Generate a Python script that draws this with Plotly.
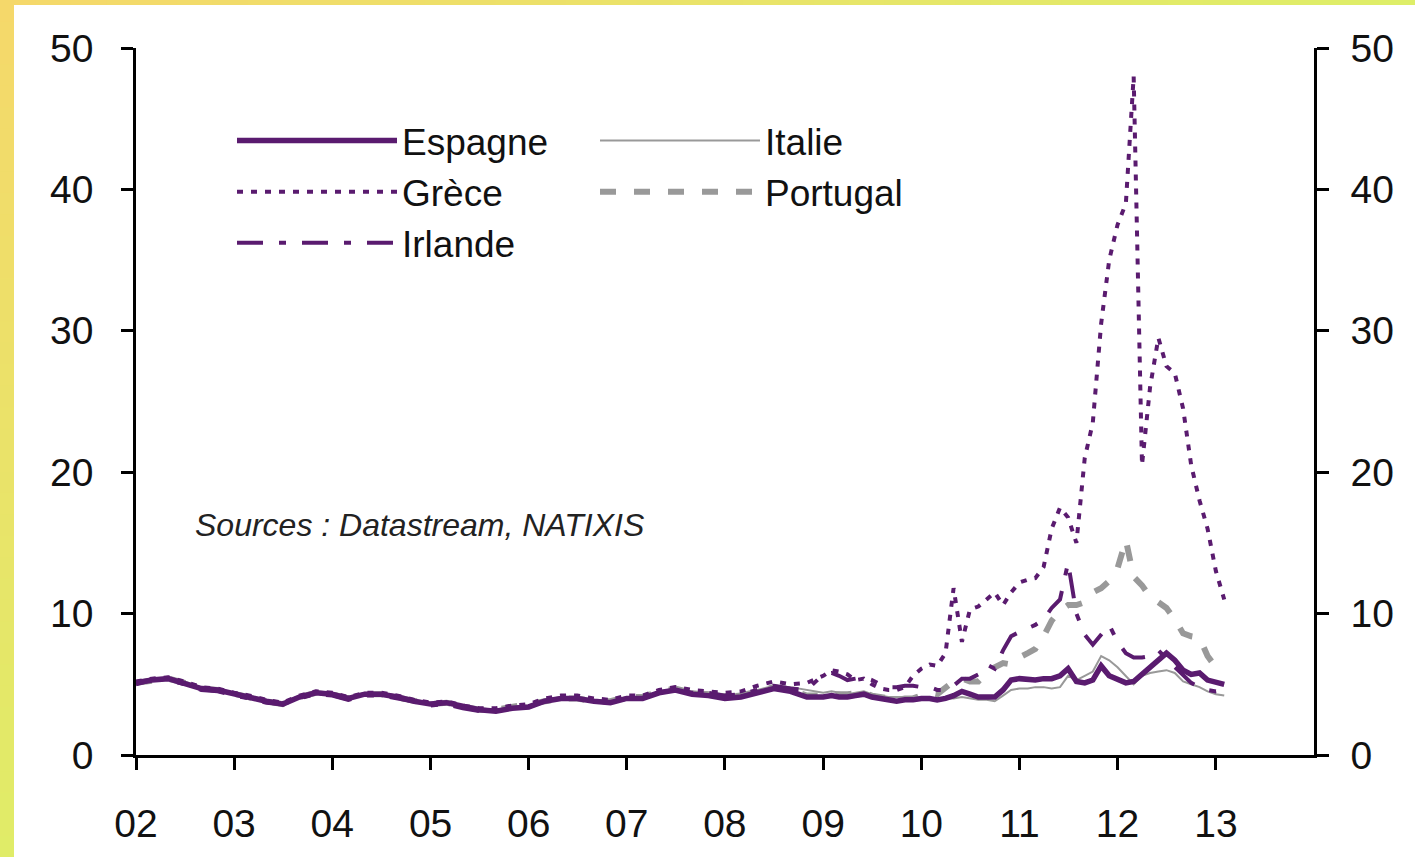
import pandas as pd
import plotly.graph_objects as go

# ---------------- data ----------------
DATES = list(pd.date_range("2002-01-01", "2008-11-01", freq="2MS")) + \
        list(pd.date_range("2009-01-01", "2013-02-01", freq="MS"))

ESPAGNE = [
    5.1, 5.3, 5.4, 5.1, 4.7, 4.6,
    4.3, 4.1, 3.8, 3.6, 4.1, 4.4,
    4.3, 4.0, 4.3, 4.3, 4.1, 3.8,
    3.6, 3.7, 3.4, 3.2, 3.1, 3.3,
    3.4, 3.8, 4.0, 4.0, 3.8, 3.7,
    4.0, 4.0, 4.4, 4.6, 4.3, 4.2,
    4.0, 4.1, 4.4, 4.7, 4.5, 4.1,
    4.1, 4.2, 4.1, 4.1, 4.2, 4.3, 4.1, 4.0, 3.9, 3.8, 3.9, 3.9,
    4.0, 4.0, 3.9, 4.0, 4.2, 4.5, 4.3, 4.1, 4.1, 4.1, 4.6, 5.3,
    5.4, 5.3, 5.3, 5.4, 5.4, 5.6, 6.1, 5.2, 5.1, 5.3, 6.3, 5.6,
    5.4, 5.1, 5.2, 5.7, 6.1, 6.6, 7.2, 6.7, 6.0, 5.7, 5.8, 5.3,
    5.1, 5.0,
]
ITALIE = [
    5.2, 5.4, 5.4, 5.2, 4.8, 4.7,
    4.4, 4.2, 3.9, 3.7, 4.2, 4.5,
    4.4, 4.1, 4.4, 4.4, 4.2, 3.9,
    3.7, 3.8, 3.5, 3.3, 3.2, 3.4,
    3.5, 3.9, 4.1, 4.1, 3.9, 3.8,
    4.1, 4.1, 4.5, 4.7, 4.5, 4.4,
    4.3, 4.3, 4.6, 4.9, 4.8, 4.6,
    4.4, 4.5, 4.4, 4.3, 4.4, 4.5, 4.3, 4.2, 4.1, 4.1, 4.1, 4.1,
    4.1, 4.0, 3.9, 4.0, 4.0, 4.1, 4.0, 3.9, 3.9, 3.8, 4.2, 4.6,
    4.7, 4.7, 4.8, 4.8, 4.7, 4.8, 5.6, 5.3, 5.6, 5.9, 7.0, 6.7,
    6.2, 5.6, 5.0, 5.6, 5.8, 5.9, 6.0, 5.8, 5.2, 5.0, 4.8, 4.5,
    4.3, 4.2,
]
GRECE = [
    5.2, 5.4, 5.5, 5.2, 4.8, 4.7,
    4.4, 4.2, 3.9, 3.7, 4.2, 4.5,
    4.4, 4.1, 4.4, 4.4, 4.2, 3.9,
    3.7, 3.8, 3.5, 3.3, 3.3, 3.5,
    3.6, 4.0, 4.2, 4.2, 4.0, 3.9,
    4.2, 4.2, 4.6, 4.8, 4.6, 4.5,
    4.4, 4.5, 4.9, 5.2, 5.0, 5.1,
    5.6, 6.0, 5.9, 5.7, 5.3, 5.4, 5.0, 4.7, 4.6, 4.6, 4.8, 5.6,
    6.1, 6.4, 6.3, 7.2, 11.8, 8.0, 10.3, 10.5, 11.0, 11.5, 10.6, 11.5,
    12.2, 12.4, 12.5, 13.3, 16.0, 17.5, 16.8, 15.0, 21.0, 23.5, 30.5, 35.0,
    37.5, 39.0, 48.0, 20.5, 26.0, 29.5, 27.5, 27.0, 24.5, 20.5, 18.0, 16.0,
    13.0, 11.0,
]
PORTUGAL = [
    5.1, 5.3, 5.4, 5.1, 4.7, 4.6,
    4.3, 4.1, 3.8, 3.6, 4.1, 4.4,
    4.3, 4.0, 4.3, 4.3, 4.1, 3.8,
    3.6, 3.7, 3.4, 3.2, 3.2, 3.4,
    3.5, 3.8, 4.0, 4.0, 3.8, 3.8,
    4.1, 4.1, 4.5, 4.7, 4.4, 4.3,
    4.1, 4.2, 4.5, 4.8, 4.6, 4.2,
    4.2, 4.3, 4.3, 4.3, 4.3, 4.4, 4.2, 4.1, 4.0, 3.9, 4.0, 4.0,
    4.2, 4.4, 4.3, 4.8, 5.2, 5.4, 5.2, 5.2, 5.8, 6.2, 6.5, 6.4,
    6.9, 7.2, 7.5, 8.4, 9.5, 10.2, 10.6, 10.6, 10.8, 11.5, 11.8, 12.3,
    13.2, 15.2, 12.6, 12.0, 11.2, 10.8, 10.4, 9.6, 8.6, 8.4, 8.3, 7.0,
    6.2, 6.0,
]
IRLANDE = [
    5.0, 5.3, 5.3, 5.0, 4.6, 4.5,
    4.2, 4.0, 3.7, 3.6, 4.0, 4.3,
    4.2, 3.9, 4.2, 4.2, 4.0, 3.8,
    3.5, 3.6, 3.3, 3.1, 3.1, 3.3,
    3.4, 3.8, 4.0, 4.0, 3.8, 3.7,
    4.0, 4.0, 4.4, 4.6, 4.4, 4.4,
    4.2, 4.3, 4.6, 4.9, 4.7, 4.6,
    5.7, 5.8, 5.6, 5.3, 5.4, 5.5, 5.3, 5.0, 4.8, 4.8, 4.9, 4.9,
    4.8, 4.8, 4.6, 4.6, 4.9, 5.4, 5.4, 5.7, 6.4, 6.1, 7.4, 8.4,
    8.7, 9.0, 9.2, 9.6, 10.4, 11.0, 13.6, 10.0, 8.5, 7.8, 8.5, 9.2,
    8.0, 7.2, 6.9, 6.9, 7.0, 7.4, 6.8, 6.2, 5.6, 5.1, 4.8, 4.6,
    4.5, 4.6,
]

X_TICKS = [f"{y}-01-01" for y in range(2002, 2014)]
X_LABELS = ["02", "03", "04", "05", "06", "07", "08", "09", "10", "11", "12", "13"]
Y_TICKS = [0, 10, 20, 30, 40, 50]
SOURCE_TEXT = "Sources : Datastream, NATIXIS"

# ---------------- style ----------------
PURPLE = "#5A1B6F"
GREY = "#999999"
FONT = "Liberation Sans, Arial, sans-serif"
W, H = 1415, 857
L, R, T, B = 136, 101, 48, 102

fig = go.Figure()

series = {
    "Espagne": (ESPAGNE, dict(color=PURPLE, width=5.5), "legend", 1),
    "Grèce": (GRECE, dict(color=PURPLE, width=4, dash="6px,8px"), "legend", 2),
    "Irlande": (IRLANDE, dict(color=PURPLE, width=4, dash="26px,16px,7px,16px"), "legend", 3),
    "Italie": (ITALIE, dict(color=GREY, width=2), "legend2", 1),
    "Portugal": (PORTUGAL, dict(color=GREY, width=6, dash="16px,18px"), "legend2", 2),
}
# grey lines drawn below purple ones as in the reference
for name in ["Portugal", "Italie", "Irlande", "Grèce", "Espagne"]:
    vals, line, leg, rank = series[name]
    fig.add_trace(go.Scatter(
        x=DATES, y=vals, mode="lines", name=name, line=line,
        legend=leg, legendgroup=name, legendrank=rank,
    ))

# invisible trace to register the right-hand axis
fig.add_trace(go.Scatter(x=[DATES[0]], y=[None], yaxis="y2", showlegend=False,
                         hoverinfo="skip", mode="lines"))

axis_common = dict(
    showline=True, linecolor="black", linewidth=2.5,
    ticks="outside", ticklen=12, tickwidth=2.5, tickcolor="black",
    showgrid=False, zeroline=False,
    tickfont=dict(family=FONT, size=39, color="#111111"),
)

pw, ph = W - L - R, H - T - B
def px2x(px):
    return (px - L) / pw
def py2y(py):
    return (H - B - py) / ph

legend_common = dict(
    xanchor="left", yanchor="top", bgcolor="rgba(0,0,0,0)",
    font=dict(family=FONT, size=37, color="#111111"),
    itemwidth=160, tracegroupgap=6, traceorder="normal",
)

fig.update_layout(
    width=W, height=H,
    margin=dict(l=L, r=R, t=T, b=B),
    paper_bgcolor="white", plot_bgcolor="white",
    xaxis=dict(
        range=["2002-01-01", "2014-01-01"], type="date",
        tickvals=X_TICKS, ticktext=X_LABELS,
        ticklabelstandoff=20, **axis_common,
    ),
    yaxis=dict(range=[0, 50], tickvals=Y_TICKS, ticklabelstandoff=20, **axis_common),
    yaxis2=dict(range=[0, 50], tickvals=Y_TICKS, overlaying="y", side="right",
                ticklabelstandoff=14, **axis_common),
    legend=dict(x=px2x(232), y=py2y(110), **legend_common),
    legend2=dict(x=px2x(595), y=py2y(110), **legend_common),
    showlegend=True,
)

fig.add_annotation(
    text=SOURCE_TEXT, xref="paper", yref="paper",
    x=px2x(193), y=py2y(525),
    xanchor="left", yanchor="middle", showarrow=False,
    font=dict(family=FONT, size=32, color="#222222", style="italic"),
)

# yellow gradient frame (top and left edges)
c_a = (245, 216, 106)
c_top_end = (222, 238, 104)
c_left_end = (224, 236, 104)
def mix(c0, c1, t):
    return "rgb(%d,%d,%d)" % tuple(round(a + (b - a) * t) for a, b in zip(c0, c1))
NSEG = 40
for i in range(NSEG):
    x0 = W * i / NSEG
    x1 = W * (i + 1) / NSEG + 1
    fig.add_shape(type="rect", xref="paper", yref="paper",
                  x0=px2x(x0), x1=px2x(x1), y0=py2y(5), y1=py2y(-2),
                  fillcolor=mix(c_a, c_top_end, i / (NSEG - 1)), line_width=0, layer="above")
    y0 = H * i / NSEG
    y1 = H * (i + 1) / NSEG + 1
    fig.add_shape(type="rect", xref="paper", yref="paper",
                  x0=px2x(-2), x1=px2x(14), y0=py2y(y1), y1=py2y(y0),
                  fillcolor=mix(c_a, c_left_end, i / (NSEG - 1)), line_width=0, layer="above")

fig.write_html("out.html", config={"displayModeBar": False},
               post_script="document.body.style.margin='0px';")
